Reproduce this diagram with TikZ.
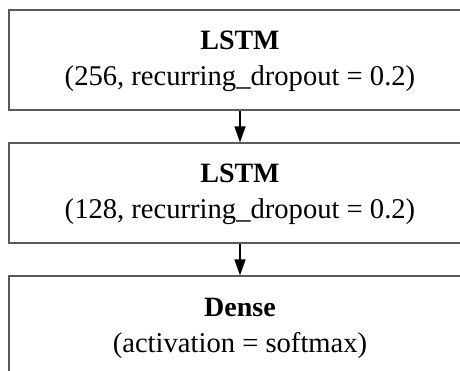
\documentclass[tikz,border=0pt]{standalone}
\usepackage{fontspec}
\setmainfont{Liberation Serif}
\usetikzlibrary{arrows.meta}
\definecolor{edge}{HTML}{5A5A5A}
\tikzset{
  layerbox/.style={draw=edge, line width=1.1pt, minimum width=462pt, minimum height=100pt, inner sep=0pt},
  title/.style={anchor=base, inner sep=0pt, font=\fontsize{28}{32}\selectfont\bfseries},
  params/.style={anchor=base, inner sep=0pt, font=\fontsize{28.6}{32}\selectfont},
  flow/.style={draw=black, line width=1.4pt, -{Triangle[length=16pt,width=11pt]}}
}
\begin{document}
\begin{tikzpicture}[x=1pt,y=1pt]
  \useasboundingbox (0,0) rectangle (460,-371);
  \clip (0,0) rectangle (460,-371);
  % layer boxes (the last one runs past the lower edge)
  \node[layerbox] (b1) at (240,-60) {};
  \node[layerbox] (b2) at (240,-193) {};
  \node[layerbox] (b3) at (240,-326) {};
  % labels
  \node[title]  (t1) at (240,-50)  {LSTM};
  \node[params] (p1) at (240,-86)  {(256, recurring\_dropout = 0.2)};
  \node[title]  (t2) at (240,-183) {LSTM};
  \node[params] (p2) at (240,-219) {(128, recurring\_dropout = 0.2)};
  \node[title]  (t3) at (240,-316) {Dense};
  \node[params] (p3) at (240,-352) {(activation = softmax)};
  % connectors
  \draw[flow] (b1.south) -- (b2.north);
  \draw[flow] (b2.south) -- (b3.north);
\end{tikzpicture}
\end{document}
